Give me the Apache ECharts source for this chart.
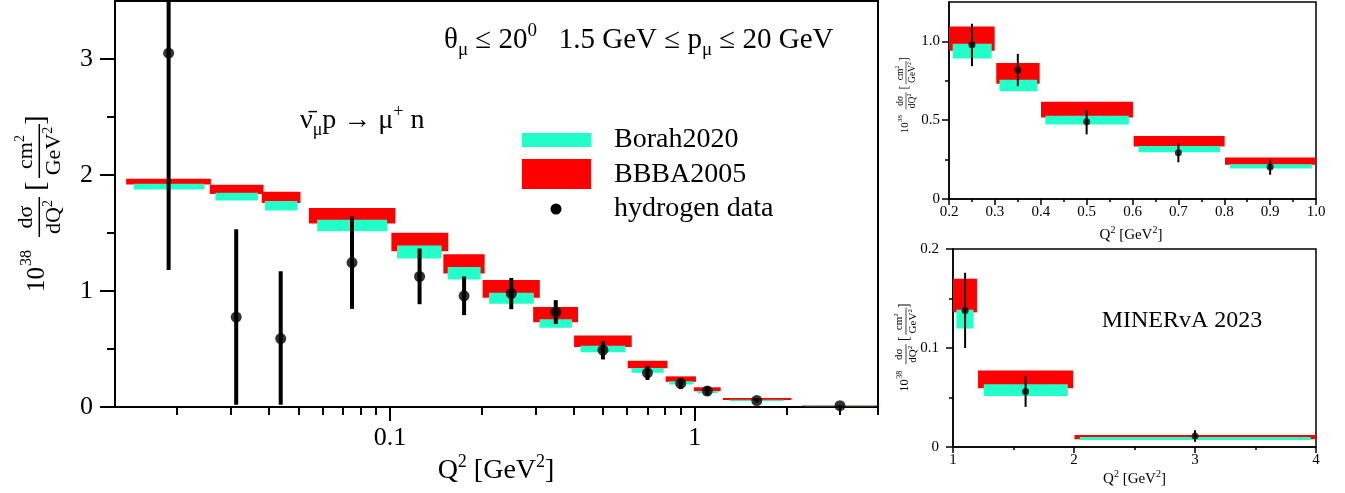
<!DOCTYPE html>
<html>
<head>
<meta charset="utf-8">
<script src="https://cdn.jsdelivr.net/npm/echarts@6/dist/echarts.min.js"></script>
<style>
  html, body { margin: 0; padding: 0; background: #fff; }
  #chart { width: 1345px; height: 493px; }
</style>
</head>
<body>
<div id="chart"></div>
<script>
// Q^2 bin centres [GeV^2] and hydrogen data, 10^-38 cm^2/GeV^2
const q2 = [0.01875, 0.03125, 0.04375, 0.075, 0.125, 0.175, 0.25, 0.35, 0.5, 0.7, 0.9, 1.1, 1.6, 3.0];
const dataVal = [3.05, 0.775, 0.59, 1.245, 1.125, 0.958, 0.978, 0.819, 0.49, 0.294, 0.203, 0.138, 0.056, 0.011];
const errLo = [1.18, 0.02, 0.02, 0.846, 0.886, 0.792, 0.843, 0.716, 0.41, 0.233, 0.154, 0.100, 0.0405, 0.0054];
const errHi = [4.92, 1.532, 1.17, 1.644, 1.366, 1.125, 1.112, 0.921, 0.566, 0.354, 0.251, 0.176, 0.0716, 0.0169];

// model bands (low / high)
const bbbaLo = [1.919, 1.836, 1.758, 1.581, 1.343, 1.151, 0.941, 0.731, 0.517, 0.333, 0.217, 0.136, 0.0594, 0.0078];
const bbbaHi = [1.968, 1.917, 1.856, 1.715, 1.502, 1.317, 1.095, 0.863, 0.617, 0.399, 0.264, 0.170, 0.0772, 0.0121];
const borahLo = [1.876, 1.781, 1.695, 1.515, 1.280, 1.099, 0.891, 0.684, 0.473, 0.296, 0.194, 0.1197, 0.0516, 0.0071];
const borahHi = [1.925, 1.848, 1.775, 1.615, 1.392, 1.207, 0.985, 0.757, 0.529, 0.337, 0.221, 0.1387, 0.0635, 0.0101];

// box extents in Q^2 as drawn on the log panel
const bbbaLogL = [0.0136, 0.0256, 0.0379, 0.0541, 0.101, 0.1496, 0.2013, 0.295, 0.402, 0.603, 0.803, 0.995, 1.238, 2.25];
const bbbaLogR = [0.0258, 0.0384, 0.0508, 0.1041, 0.1553, 0.2044, 0.3102, 0.4143, 0.6215, 0.8139, 1.01, 1.217, 2.075, 4.0];
const borahLogL = [0.0144, 0.0267, 0.0388, 0.0576, 0.1054, 0.1546, 0.2112, 0.3096, 0.4218, 0.620, 0.824, 1.02, 1.302, 2.3];
const borahLogR = [0.02456, 0.03683, 0.04956, 0.0978, 0.1477, 0.1983, 0.2966, 0.396, 0.5927, 0.7913, 0.987, 1.192, 1.958, 3.9];

// box extents on the two linear (MINERvA) panels, bins 7..14
const linBbbaL = [0.2, 0.303, 0.4005, 0.6025, 0.8016, 1.0, 1.207, 2.004];
const linBbbaR = [0.2995, 0.3975, 0.601, 0.8008, 1.0, 1.198, 1.993, 4.0];
const linBorahL = [0.208, 0.31, 0.41, 0.613, 0.812, 1.028, 1.254, 2.048];
const linBorahR = [0.293, 0.392, 0.592, 0.791, 0.991, 1.169, 1.949, 3.956];

// tick values
const mainXMajor = [0.1, 1];
const mainXMinor = [0.02, 0.03, 0.04, 0.05, 0.06, 0.07, 0.08, 0.09, 0.2, 0.3, 0.4, 0.5, 0.6, 0.7, 0.8, 0.9, 2, 3, 4];
const mainYMajor = [0, 1, 2, 3];
const mainYMinor = [0.5, 1.5, 2.5];
const topXMajor = [0.2, 0.3, 0.4, 0.5, 0.6, 0.7, 0.8, 0.9, 1.0];
const topXMinor = [0.25, 0.35, 0.45, 0.55, 0.65, 0.75, 0.85, 0.95];
const topYMajor = [0, 0.5, 1.0];
const topYMinor = [0.25, 0.75];
const botXMajor = [1, 2, 3, 4];
const botXMinor = [1.5, 2.5, 3.5];
const botYMajor = [0, 0.1, 0.2];
const botYMinor = [0.05, 0.15];

const FONT = "'Liberation Serif', 'Times New Roman', serif";
const RED = '#ff0000';
const CYAN = '#22ffc8';

const chart = echarts.init(document.getElementById('chart'));

function axisPair(dim, grid, type, min, max, major, minor, majLen, minLen, lw, fmt, fontSize, margin) {
  const base = {
    gridIndex: grid, type: type, min: min, max: max,
    position: dim === 'x' ? 'bottom' : 'left',
    splitLine: { show: false }
  };
  if (type === 'log') base.logBase = 10;
  const maj = Object.assign({}, base, {
    axisLine: { show: true, onZero: false, lineStyle: { color: '#000', width: lw } },
    axisTick: { show: true, inside: false, length: majLen, customValues: major, lineStyle: { color: '#000', width: lw } },
    axisLabel: { show: true, customValues: major, formatter: fmt, margin: margin, color: '#000', fontFamily: FONT, fontSize: fontSize }
  });
  const mn = Object.assign({}, base, {
    axisLine: { show: false, onZero: false },
    axisTick: { show: true, inside: false, length: minLen, customValues: minor, lineStyle: { color: '#000', width: lw } },
    axisLabel: { show: false }
  });
  return [maj, mn];
}

const oneDec = v => (v === 0 ? '0' : v.toFixed(1));

const xAxes = [].concat(
  axisPair('x', 0, 'log', 0.0125, 4, mainXMajor, mainXMinor, 14, 8, 2, v => String(v), 26, 18),
  axisPair('x', 1, 'value', 0.2, 1.0, topXMajor, topXMinor, 6, 3, 1.5, v => v.toFixed(1), 15, 6),
  axisPair('x', 2, 'value', 1, 4, botXMajor, botXMinor, 6, 3, 1.5, v => String(v), 15, 6)
);
const yAxes = [].concat(
  axisPair('y', 0, 'value', 0, 3.5, mainYMajor, mainYMinor, 15, 8, 2, v => String(v), 26, 22),
  axisPair('y', 1, 'value', 0, 1.25, topYMajor, topYMinor, 7, 4, 1.5, oneDec, 15, 9),
  axisPair('y', 2, 'value', 0, 0.2, botYMajor, botYMinor, 7, 4, 1.5, oneDec, 15, 14)
);

function boxRender(color) {
  return function (params, api) {
    const a = api.coord([api.value(0), api.value(3)]);
    const b = api.coord([api.value(1), api.value(2)]);
    return {
      type: 'rect',
      shape: { x: a[0], y: a[1], width: b[0] - a[0], height: b[1] - a[1] },
      style: { fill: color }
    };
  };
}

function errRender(w) {
  return function (params, api) {
    const lo = api.coord([api.value(0), api.value(1)]);
    const hi = api.coord([api.value(0), api.value(2)]);
    return {
      type: 'line',
      shape: { x1: lo[0], y1: lo[1], x2: hi[0], y2: hi[1] },
      style: { stroke: '#000', lineWidth: w }
    };
  };
}

function panelSeries(axisIdx, bins, redL, redR, cyL, cyR, errW, dot) {
  return [
    {
      type: 'custom', xAxisIndex: axisIdx, yAxisIndex: axisIdx, clip: true,
      encode: { x: [0, 1], y: [2, 3] },
      renderItem: boxRender(RED),
      data: bins.map((i, j) => [redL(i, j), redR(i, j), bbbaLo[i], bbbaHi[i]])
    },
    {
      type: 'custom', xAxisIndex: axisIdx, yAxisIndex: axisIdx, clip: true,
      encode: { x: [0, 1], y: [2, 3] },
      renderItem: boxRender(CYAN),
      data: bins.map((i, j) => [cyL(i, j), cyR(i, j), borahLo[i], borahHi[i]])
    },
    {
      type: 'custom', xAxisIndex: axisIdx, yAxisIndex: axisIdx, clip: true,
      encode: { x: 0, y: [1, 2] },
      renderItem: errRender(errW),
      data: bins.map(i => [q2[i], errLo[i], errHi[i]])
    },
    {
      type: 'scatter', xAxisIndex: axisIdx, yAxisIndex: axisIdx,
      symbol: 'circle', symbolSize: dot,
      itemStyle: { color: '#000' },
      data: bins.map(i => [q2[i], dataVal[i]])
    }
  ];
}

const allBins = q2.map((_, i) => i);
const topBins = [6, 7, 8, 9, 10];
const botBins = [11, 12, 13];

const series = [].concat(
  panelSeries(0, allBins, i => bbbaLogL[i], i => bbbaLogR[i], i => borahLogL[i], i => borahLogR[i], 4, 11),
  panelSeries(2, topBins, i => linBbbaL[i - 6], i => linBbbaR[i - 6], i => linBorahL[i - 6], i => linBorahR[i - 6], 2, 7),
  panelSeries(4, botBins, i => linBbbaL[i - 6], i => linBbbaR[i - 6], i => linBorahL[i - 6], i => linBorahR[i - 6], 2, 7)
);

function rich(size, lh) {
  const s = Math.round(size * 0.65);
  return {
    a: { fontFamily: FONT, fontSize: size, lineHeight: lh, fill: '#000' },
    sup: { fontFamily: FONT, fontSize: s, fill: '#000', verticalAlign: 'top' },
    sub: { fontFamily: FONT, fontSize: s, fill: '#000', verticalAlign: 'bottom' }
  };
}

function txt(x, y, text, size, align, lh) {
  return {
    type: 'text', x: x, y: y, silent: true,
    style: {
      text: text, fontFamily: FONT, fontSize: size, fill: '#000',
      textAlign: align, textVerticalAlign: 'middle',
      rich: rich(size, lh || Math.round(size * 1.3))
    }
  };
}

function hline(x1, x2, y) {
  return { type: 'line', shape: { x1: x1, y1: y, x2: x2, y2: y }, style: { stroke: '#000', lineWidth: 1.5 } };
}

// rotated y title: 10^38 dσ/dQ² [cm²/GeV²]
function yTitle(cx, cy, s) {
  const x0 = -87.5;
  return {
    type: 'group', x: cx, y: cy, rotation: Math.PI / 2, scaleX: s, scaleY: s, silent: true,
    children: [
      txt(x0, -2, '{a|10}', 25, 'left', 28),
      txt(x0 + 26, -13, '{a|38}', 16, 'left', 18),
      txt(x0 + 75, -13, '{a|dσ}', 22, 'center', 24),
      hline(x0 + 55, x0 + 95, 0),
      txt(x0 + 75, 15, '{a|dQ}{sup|2}', 22, 'center', 26),
      txt(x0 + 106, -3, '{a|[}', 28, 'center', 30),
      txt(x0 + 140, -13, '{a|cm}{sup|2}', 22, 'center', 26),
      hline(x0 + 114, x0 + 168, 0),
      txt(x0 + 141, 15, '{a|GeV}{sup|2}', 22, 'center', 26),
      txt(x0 + 172, -3, '{a|]}', 28, 'center', 30)
    ]
  };
}

const graphic = [
  txt(444, 40.5, '{a|θ}{sub|μ}{a| ≤ 20}{sup|0}{a|   1.5 GeV ≤ p}{sub|μ}{a| ≤ 20 GeV}', 29, 'left', 38),
  txt(300, 121, '{a|ν\u0304}{sub|μ}{a|p → μ}{sup|+}{a| n}', 28, 'left', 36),
  { type: 'rect', shape: { x: 522, y: 133, width: 69, height: 14 }, style: { fill: CYAN }, silent: true },
  { type: 'rect', shape: { x: 522, y: 159, width: 69, height: 30 }, style: { fill: RED }, silent: true },
  { type: 'circle', shape: { cx: 556, cy: 209, r: 5.5 }, style: { fill: '#000' }, silent: true },
  txt(614, 140, '{a|Borah2020}', 28, 'left', 34),
  txt(614, 174.5, '{a|BBBA2005}', 28, 'left', 34),
  txt(614, 209, '{a|hydrogen data}', 28, 'left', 34),
  txt(496, 471, '{a|Q}{sup|2}{a| [GeV}{sup|2}{a|]}', 28, 'center', 36),
  txt(1131, 235, '{a|Q}{sup|2}{a| [GeV}{sup|2}{a|]}', 15, 'center', 19),
  txt(1134.5, 479, '{a|Q}{sup|2}{a| [GeV}{sup|2}{a|]}', 15, 'center', 19),
  txt(1101.7, 321, '{a|MINERvA 2023}', 24, 'left', 30),
  yTitle(39.3, 204.5, 1),
  yTitle(906, 95.5, 0.43),
  yTitle(906, 348, 0.5)
];

chart.setOption({
  animation: false,
  backgroundColor: '#fff',
  textStyle: { fontFamily: FONT },
  grid: [
    { left: 115, top: 1, width: 763, height: 406, show: true, borderColor: '#000', borderWidth: 2 },
    { left: 949, top: 2, width: 367, height: 197, show: true, borderColor: '#000', borderWidth: 1.5 },
    { left: 953, top: 249, width: 363, height: 198, show: true, borderColor: '#000', borderWidth: 1.5 }
  ],
  xAxis: xAxes,
  yAxis: yAxes,
  series: series,
  graphic: graphic
});
</script>
</body>
</html>
